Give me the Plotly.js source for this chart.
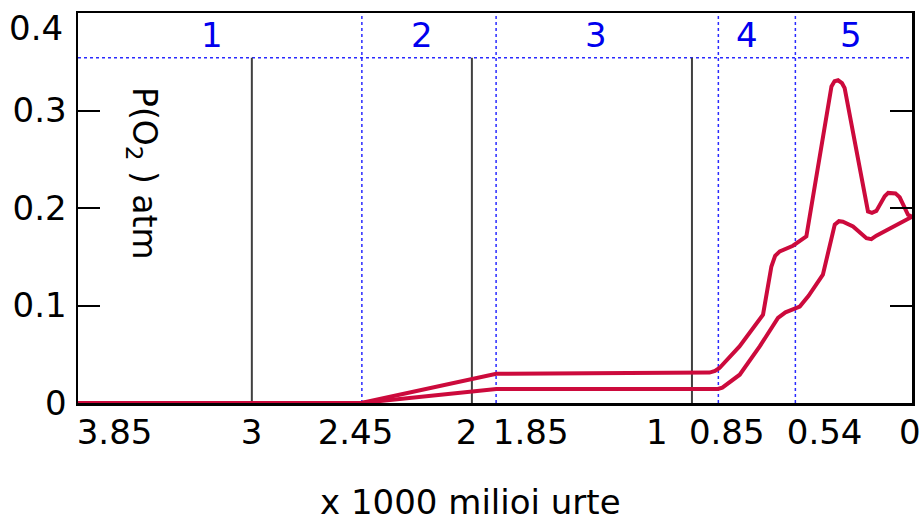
<!DOCTYPE html>
<html>
<head>
<meta charset="utf-8">
<script src="https://cdn.plot.ly/plotly-3.0.1.min.js"></script>
<style>html,body{margin:0;padding:0;background:#fff;}#chart{width:923px;height:522px;}</style>
</head>
<body>
<div id="chart"></div>
<script>
// Upper bound of atmospheric O2 (x = thousand million years ago, y = atm)
const upperX = [3.85, 2.503, 1.889, 1.010, 0.920, 0.895, 0.875, 0.784, 0.677, 0.639, 0.622, 0.601, 0.541, 0.480, 0.366, 0.352, 0.336, 0.318, 0.306, 0.200, 0.182, 0.162, 0.124, 0.108, 0.094, 0.075, 0.056, 0.040, 0.018, 0.0];
const upperY = [0, 0, 0.030, 0.0308, 0.0312, 0.0328, 0.0359, 0.058, 0.0906, 0.140, 0.151, 0.1555, 0.1613, 0.171, 0.3247, 0.330, 0.331, 0.328, 0.323, 0.1965, 0.195, 0.197, 0.212, 0.2155, 0.2157, 0.215, 0.211, 0.203, 0.193, 0.191];
// Lower bound
const lowerX = [3.85, 2.503, 1.889, 0.882, 0.862, 0.844, 0.812, 0.783, 0.692, 0.609, 0.575, 0.510, 0.470, 0.405, 0.351, 0.332, 0.314, 0.268, 0.207, 0.185, 0.162, 0.0];
const lowerY = [0, 0, 0.0144, 0.0144, 0.0158, 0.0188, 0.024, 0.029, 0.058, 0.0872, 0.093, 0.099, 0.110, 0.1316, 0.183, 0.1865, 0.186, 0.181, 0.169, 0.168, 0.1716, 0.191];

// Stage boundaries (blue dotted) and black marker lines
const stageBounds = [2.5, 1.89, 0.88, 0.53];
const blackLines = [3, 2, 1];
const stageTop = 0.354;
const stageLabels = ['1', '2', '3', '4', '5'];
const stageLabelX = [3.183, 2.229, 1.434, 0.752, 0.279];
const stageLabelY = 0.377;

// Axis tick labels
const xTickText = ['3.85', '3', '2.45', '2', '1.85', '1', '0.85', '0.54', '0'];
const xTickPos = [3.624, 3.001, 2.529, 2.024, 1.733, 1.160, 0.842, 0.397, 0.010];
const yTickVals = [0, 0.1, 0.2, 0.3];
const yTickText = ['0', '0.1', '0.2', '0.3'];
const yTopLabel = '0.4';

const RED = '#cc0a3c';
const BLUE = '#2a2aff';
const FONT = 'DejaVu Sans, sans-serif';
const FS = 34;

const traces = [
  {x: upperX, y: upperY, mode: 'lines', line: {color: RED, width: 4, shape: 'linear'}, hoverinfo: 'skip'},
  {x: lowerX, y: lowerY, mode: 'lines', line: {color: RED, width: 4, shape: 'linear'}, hoverinfo: 'skip'}
];

const shapes = [];
blackLines.forEach(v => shapes.push({type: 'line', xref: 'x', yref: 'y', x0: v, x1: v, y0: 0, y1: stageTop, line: {color: '#404040', width: 2}, layer: 'below'}));
stageBounds.forEach(v => shapes.push({type: 'line', xref: 'x', yref: 'paper', x0: v, x1: v, y0: 0, y1: 1, line: {color: BLUE, width: 1.5, dash: 'dot'}, layer: 'below'}));
shapes.push({type: 'line', xref: 'paper', yref: 'y', x0: 0, x1: 1, y0: stageTop, y1: stageTop, line: {color: BLUE, width: 1.5, dash: 'dot'}, layer: 'below'});

const annotations = stageLabels.map((t, i) => ({
  text: t, x: stageLabelX[i], y: stageLabelY, xref: 'x', yref: 'y', showarrow: false,
  font: {family: FONT, size: FS, color: '#0000ee'}, xanchor: 'center', yanchor: 'middle'
}));
annotations.push({text: 'P(O<sub>2</sub> ) atm', x: 3.50, y: 0.235, xref: 'x', yref: 'y', showarrow: false,
  textangle: 90, font: {family: FONT, size: 33, color: '#000'}, xanchor: 'center', yanchor: 'middle'});
annotations.push({text: 'x 1000 milioi urte', x: 0.471, y: -0.253, xref: 'paper', yref: 'paper', showarrow: false,
  font: {family: FONT, size: FS, color: '#000'}, xanchor: 'center', yanchor: 'middle'});
annotations.push({text: yTopLabel, x: -0.016, y: 0.962, xref: 'paper', yref: 'paper', showarrow: false,
  font: {family: FONT, size: FS, color: '#000'}, xanchor: 'right', yanchor: 'middle'});

const layout = {
  width: 923, height: 522,
  margin: {l: 78, r: 11, t: 13, b: 119, pad: 0},
  paper_bgcolor: '#fff', plot_bgcolor: '#fff',
  showlegend: false,
  font: {family: FONT, size: FS, color: '#000'},
  xaxis: {
    range: [3.79, 0], showgrid: false, zeroline: false,
    tickmode: 'array', tickvals: xTickPos, ticktext: xTickText, tickangle: 0,
    ticks: '', showline: true, linecolor: '#000', linewidth: 2.5, mirror: true,
    tickfont: {family: FONT, size: FS, color: '#000'}, ticklabelstandoff: -2,
    ticklabeloverflow: 'allow', automargin: false
  },
  yaxis: {
    range: [0, 0.4], showgrid: false, zeroline: false,
    tickmode: 'array', tickvals: yTickVals, ticktext: yTickText,
    ticks: 'inside', ticklen: 22, tickwidth: 2, tickcolor: '#000',
    showline: true, linecolor: '#000', linewidth: 2.5, mirror: 'ticks',
    tickfont: {family: FONT, size: FS, color: '#000'}, ticklabelstandoff: 2,
    ticklabeloverflow: 'allow', automargin: false
  },
  shapes: shapes,
  annotations: annotations
};

Plotly.newPlot('chart', traces, layout, {staticPlot: true, displayModeBar: false});
</script>
</body>
</html>
